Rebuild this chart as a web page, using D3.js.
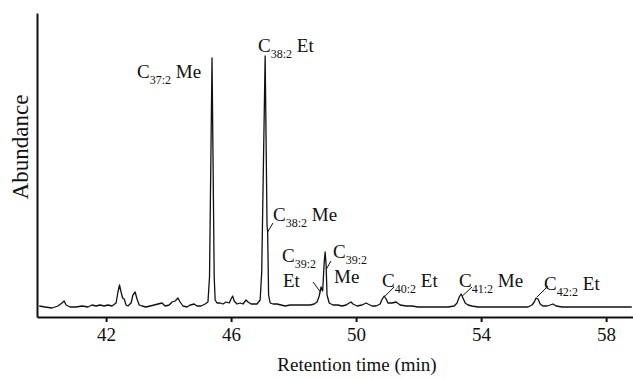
<!DOCTYPE html>
<html>
<head>
<meta charset="utf-8">
<script src="https://cdn.jsdelivr.net/npm/d3@7"></script>
<style>
  html, body { margin: 0; padding: 0; background: #fff; }
  svg { display: block; }
  text { font-family: "Liberation Serif", "Times New Roman", serif; fill: #111; }
</style>
</head>
<body>
<svg id="chart" width="633" height="380"></svg>
<script>
// ---- Data: retention time (min) and abundance (arbitrary units) ----
const times = [
  39.86, 40.05, 40.27, 40.46, 40.59, 40.66, 40.72, 40.85, 41.04, 41.23,
  41.42, 41.55, 41.68, 41.81, 41.94, 42.06, 42.19, 42.32, 42.38, 42.43,
  42.48, 42.53, 42.58, 42.64, 42.70, 42.80, 42.86, 42.93, 42.99, 43.06,
  43.15, 43.28, 43.41, 43.54, 43.66, 43.79, 43.89, 44.02, 44.11, 44.21,
  44.30, 44.37, 44.46, 44.59, 44.69, 44.82, 44.91, 45.04, 45.17, 45.26,
  45.31, 45.39, 45.46, 45.49, 45.55, 45.65, 45.74, 45.84,
  45.94, 46.00, 46.05, 46.10, 46.19, 46.29, 46.38, 46.48, 46.54, 46.64,
  46.74, 46.83, 46.93, 46.98, 47.09, 47.15, 47.17, 47.20, 47.25,
  47.34, 47.47, 47.60, 47.73, 47.89, 48.05, 48.21, 48.37, 48.53, 48.66,
  48.75, 48.82, 48.88, 48.93, 48.98, 49.01, 49.04, 49.07, 49.14, 49.26,
  49.42, 49.55, 49.68, 49.78, 49.84, 49.90, 50.03, 50.19, 50.32, 50.38,
  50.51, 50.64, 50.77, 50.82, 50.90, 50.96, 51.02, 51.15, 51.28, 51.41,
  51.60, 51.79, 51.98, 52.18, 52.37, 52.56, 52.74, 52.94, 53.14, 53.23,
  53.30, 53.36, 53.42, 53.49, 53.58, 53.71, 53.90, 54.13, 54.35, 54.61,
  54.93, 55.25, 55.50, 55.63, 55.70, 55.76, 55.82, 55.89, 55.98, 56.11,
  56.21, 56.30, 56.40, 56.59, 56.85, 57.17, 57.49, 57.81, 58.13, 58.45, 58.82
];
const abundance = [
  11, 10, 9, 11, 14, 16, 12, 10, 10, 11,
  10, 12, 11, 12, 11, 12, 11, 14, 25, 32,
  25, 19, 18, 12, 11, 14, 22, 25, 18, 12,
  11, 10, 11, 12, 13, 14, 11, 12, 15, 16,
  19, 15, 11, 10, 12, 13, 11, 11, 13, 15,
  40, 259, 40, 17, 14, 14, 13, 15,
  14, 18, 21, 16, 13, 14, 13, 17, 15, 13,
  13, 13, 17, 45, 261, 92, 85, 22, 14,
  13, 13, 12, 11, 12, 12, 12, 12, 12, 13,
  15, 21, 30, 26, 55, 65, 52, 22, 14, 12,
  12, 11, 12, 14, 15, 13, 11, 12, 14, 13,
  11, 11, 13, 17, 21, 18, 14, 14, 15, 12,
  11, 11, 10, 10, 10, 10, 10, 10, 11, 14,
  20, 23, 19, 14, 12, 11, 10, 10, 10, 10,
  10, 10, 10, 12, 15, 19, 18, 13, 11, 11,
  12, 13, 11, 10, 10, 10, 10, 10, 10, 10, 10
];
const xTicks = [42, 46, 50, 54, 58];

// Peak annotations
const peakChains = ["37:2", "38:2", "38:2", "39:2", "39:2", "40:2", "41:2", "42:2"];
const peakGroups = ["Me", "Et", "Me", "Et", "Me", "Et", "Me", "Et"];
const leaderTimes = [null, null, 47.17, 48.86, 49.05, 50.93, 53.40, 55.79];
const leaderAbund = [null, null, 85, 25, 48, 21, 21, 20];

// ---- Layout (pixels) ----
const W = 633, H = 380;
const plot = { left: 37, right: 633, top: 13, bottom: 317 };
// label anchor (x of "C", baseline y), stacked flag, leader start
const labelLayout = [
  { x: 137, y: 78,  stacked: false },
  { x: 258, y: 52,  stacked: false },
  { x: 273, y: 221, stacked: false, lx: 273, ly: 223 },
  { x: 282, y: 262, stacked: true,  lx: 313, ly: 282 },
  { x: 333, y: 258, stacked: true,  lx: 331, ly: 261 },
  { x: 382, y: 287, stacked: false, lx: 394, ly: 287 },
  { x: 459, y: 287, stacked: false, lx: 472, ly: 287 },
  { x: 544, y: 290, stacked: false, lx: 548, ly: 286 }
];
const mainSize = 19, subSize = 12, subShift = 6;

const svg = d3.select("#chart");

const x = d3.scaleLinear().domain([39.79, 58.86]).range([plot.left, plot.right]);
const y = d3.scaleLinear().domain([0, 304]).range([plot.bottom, plot.top]);

// Trace
const pts = times.map((t, i) => [t, abundance[i]]);
const line = d3.line().x(d => x(d[0])).y(d => y(d[1]));
svg.append("path")
  .datum(pts)
  .attr("d", line)
  .attr("fill", "none")
  .attr("stroke", "#111")
  .attr("stroke-width", 1.3)
  .attr("stroke-linejoin", "round");

// X axis
const xAxis = d3.axisBottom(x).tickValues(xTicks).tickSize(5).tickSizeOuter(0).tickPadding(6);
const gx = svg.append("g").attr("transform", `translate(0,${plot.bottom})`).call(xAxis);
gx.select(".domain").attr("stroke", "#111").attr("stroke-width", 2);
gx.selectAll(".tick line").attr("stroke", "#111").attr("stroke-width", 2);
gx.selectAll(".tick text")
  .attr("font-family", "Liberation Serif, Times New Roman, serif")
  .attr("font-size", 19).attr("fill", "#111");

// Y axis (line only)
const yAxis = d3.axisLeft(y).tickValues([]).tickSizeOuter(0);
const gy = svg.append("g").attr("transform", `translate(${plot.left},0)`).call(yAxis);
gy.select(".domain").attr("stroke", "#111").attr("stroke-width", 2);

// Axis titles
svg.append("text")
  .attr("x", 357).attr("y", 371)
  .attr("text-anchor", "middle")
  .attr("font-size", 19)
  .text("Retention time (min)");
svg.append("text")
  .attr("transform", "translate(28,147) rotate(-90)")
  .attr("text-anchor", "middle")
  .attr("font-size", 23)
  .text("Abundance");

// Peak labels
peakChains.forEach((chain, i) => {
  const L = labelLayout[i];
  const t = svg.append("text").attr("x", L.x).attr("y", L.y).attr("font-size", mainSize);
  t.append("tspan").text("C");
  t.append("tspan").attr("font-size", subSize).attr("dy", subShift).text(chain);
  if (!L.stacked) {
    t.append("tspan").attr("dy", -subShift).text("\u00A0" + peakGroups[i]);
  } else {
    svg.append("text").attr("x", L.x + 1).attr("y", L.y + 25)
      .attr("font-size", mainSize).text(peakGroups[i]);
  }
  if (leaderTimes[i] !== null) {
    svg.append("line")
      .attr("x1", L.lx).attr("y1", L.ly)
      .attr("x2", x(leaderTimes[i])).attr("y2", y(leaderAbund[i]))
      .attr("stroke", "#111").attr("stroke-width", 1);
  }
});
</script>
</body>
</html>
